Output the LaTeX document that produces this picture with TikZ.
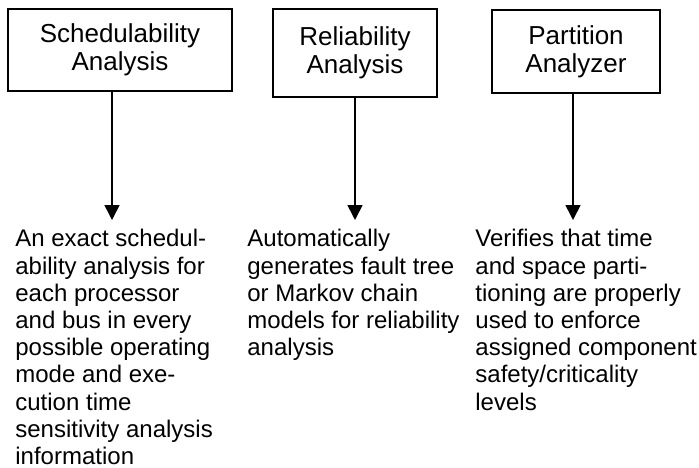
\documentclass[tikz,border=0pt]{standalone}
\usepackage{fontspec}
\setmainfont{Liberation Sans}
\usetikzlibrary{arrows.meta}
\begin{document}
\begin{tikzpicture}[x=0.5pt,y=-0.5pt,font=\fontsize{12}{13.6}\selectfont,
    tool/.style={draw,line width=0.8pt,align=center,inner sep=0pt,font=\fontsize{13}{14}\selectfont},
    note/.style={anchor=north west,align=left,inner sep=0pt},
    flow/.style={line width=0.8pt,-{Triangle[length=7.5pt,width=7.5pt]}}]
  \useasboundingbox (0,0) rectangle (699,467);
  % the three tools
  \node[tool,minimum width=112pt,minimum height=41pt] (sched) at (120,50) {Schedulability\\Analysis};
  \node[tool,minimum width=82pt,minimum height=44pt] (rel) at (355,53) {Reliability\\Analysis};
  \node[tool,minimum width=84pt,minimum height=41.5pt] (part) at (576,51.5) {Partition\\Analyzer};
  % what each one gives
  \node[note] (schedtxt) at (15,229) {An exact schedul-\\ability analysis for\\each processor\\and bus in every\\possible operating\\mode and exe-\\cution time\\sensitivity analysis\\information};
  \node[note] (reltxt) at (247,229) {Automatically\\generates fault tree\\or Markov chain\\models for reliability\\analysis};
  \node[note] (parttxt) at (475,229) {Verifies that time\\and space parti-\\tioning are properly\\used to enforce\\assigned component\\safety/criticality\\levels};
  \coordinate (t1) at (112,220);
  \coordinate (t2) at (355,220);
  \coordinate (t3) at (573,220);
  \draw[flow] (t1 |- sched.south) -- (t1);
  \draw[flow] (t2 |- rel.south) -- (t2);
  \draw[flow] (t3 |- part.south) -- (t3);
\end{tikzpicture}
\end{document}
